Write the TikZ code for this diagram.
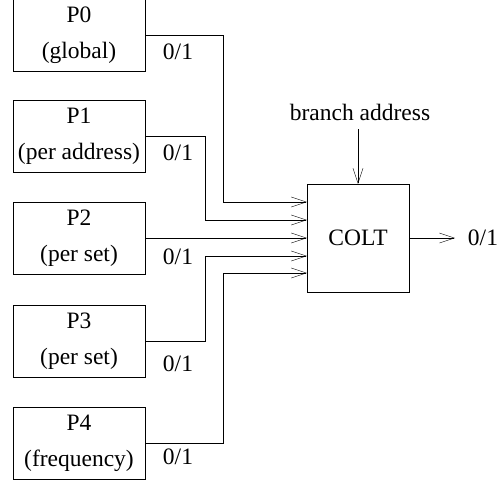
\documentclass[tikz,border=0pt]{standalone}
\usepackage{fontspec}
\setmainfont{Liberation Serif}
\usetikzlibrary{arrows.meta}

\begin{document}
\begin{tikzpicture}[x=1pt, y=-1pt,
    every node/.style={font=\fontsize{23.5}{36}\selectfont},
    pred/.style={draw, minimum width=132pt, minimum height=72pt, align=center, inner sep=0pt},
    colt/.style={draw, minimum width=102pt, minimum height=108pt},
    wire/.style={-{Straight Barb[length=15pt,width=10pt]}},
    lbl/.style={inner sep=0pt}]
    \useasboundingbox (0,0) rectangle (503,482);

    % Predittori
    \node[pred] (p0) at (79,35)  {P0\\(global)};
    \node[pred] (p1) at (79,136) {P1\\(per address)};
    \node[pred] (p2) at (79,238) {P2\\(per set)};
    \node[pred] (p3) at (79,341) {P3\\(per set)};
    \node[pred] (p4) at (79,443) {P4\\(frequency)};

    % Uscite dei predittori
    \node[lbl] (l0) at (178,52)  {0/1};
    \node[lbl] (l1) at (178,153) {0/1};
    \node[lbl] (l2) at (178,257) {0/1};
    \node[lbl] (l3) at (178,364) {0/1};
    \node[lbl] (l4) at (178,457) {0/1};

    % Blocco COLT
    \node[colt] (colt) at (358,238) {COLT};
    \node[lbl] (addr) at (360,112) {branch address};
    \node[lbl] (out) at (483,238) {0/1};
    \coordinate (addrtip) at (colt.north |- 0,129);
    \coordinate (outtip) at (455,238);

    % Collegamenti
    \draw[wire] (p0.east) -- (223,35) |- ([yshift=36pt]colt.west);   % P0 -> COLT
    \draw[wire] (p1.east) -- (205,136) |- ([yshift=18pt]colt.west);  % P1 -> COLT
    \draw[wire] (p2.east) -- (colt.west);                            % P2 -> COLT
    \draw[wire] (p3.east) -- (205,341) |- ([yshift=-18pt]colt.west); % P3 -> COLT
    \draw[wire] (p4.east) -- (223,443) |- ([yshift=-35pt]colt.west); % P4 -> COLT

    \draw[wire] (addrtip) -- (colt.north);   % indirizzo -> COLT
    \draw[wire] (colt.east) -- (outtip);     % COLT -> 0/1
\end{tikzpicture}
\end{document}
